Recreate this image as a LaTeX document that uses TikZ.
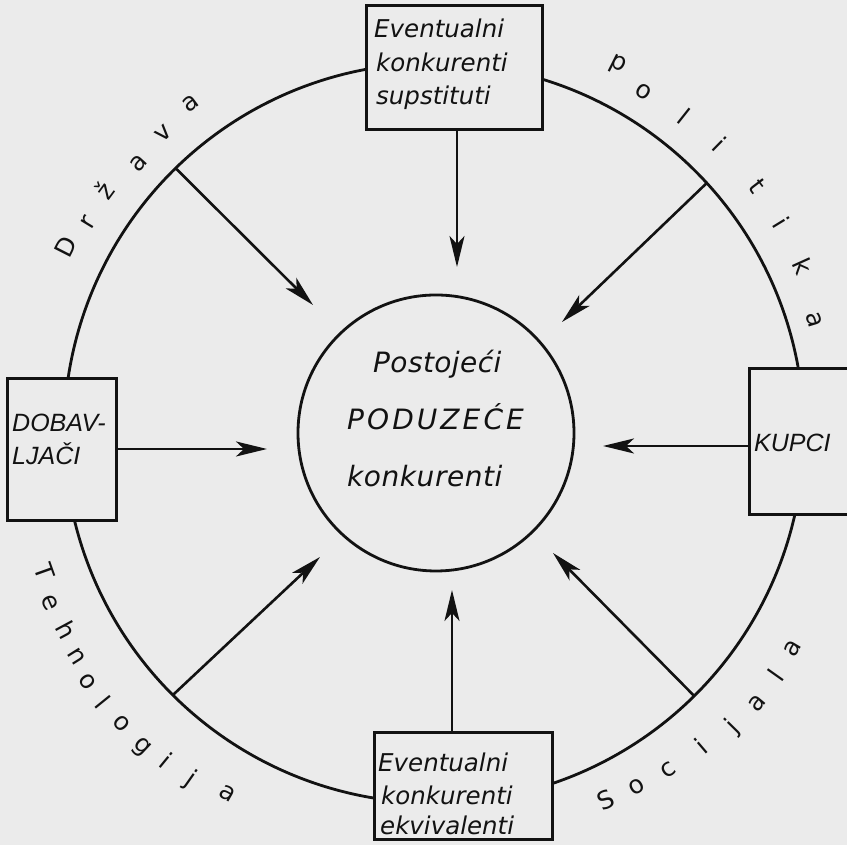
\documentclass[tikz,border=0pt]{standalone}
\usepackage{fontspec}
\usetikzlibrary{arrows.meta}
\newfontfamily\dvs{DejaVu Sans}
\newfontfamily\lib{Liberation Sans}
\definecolor{paper}{RGB}{235,235,235}
\definecolor{ink}{RGB}{18,18,18}
\newcommand\arcletter[5]{\node[arcl, rotate=#4] (#1) at (#2,{845-#3}) {#5};}
\begin{document}
\begin{tikzpicture}[x=1pt,y=1pt,
  ring/.style={draw=ink, line width=2.8pt},
  box/.style={draw=ink, fill=paper, line width=3pt, inner sep=0pt},
  arr/.style={draw=ink, line width=2.6pt, -{Stealth[length=31pt,width=15pt,inset=8pt]}},
  boxtxt/.style={anchor=base west, inner sep=0pt, text=ink, font=\dvs\itshape\fontsize{24.5}{28}\selectfont},
  captxt/.style={anchor=base west, inner sep=0pt, text=ink, font=\lib\itshape\fontsize{25}{28}\selectfont},
  firmtxt/.style={anchor=base west, inner sep=0pt, text=ink},
  arcl/.style={inner sep=0pt, text=ink, anchor=center, text height=14pt, text depth=0pt, font=\dvs\fontsize{25}{30}\selectfont}]
\useasboundingbox (0,0) rectangle (847,845);
\fill[paper] (0,0) rectangle (847,845);
\clip (0,0) rectangle (847,845);

% ring geometry
\coordinate (C) at (434,412);
\coordinate (rA) at ([shift={(171.6:370)}]C);
\coordinate (rB) at ([shift={(73:370)}]C);
\coordinate (rC) at ([shift={(-12.8:370)}]C);
\coordinate (rE) at ([shift={(193.8:370)}]C);
\draw[ring] (rA) arc[start angle=171.6, end angle=100.6, radius=370];
\draw[ring] (rB) arc[start angle=73, end angle=10, radius=370];
\draw[ring] (rC) arc[start angle=-12.8, end angle=-71.4, radius=370];
\draw[ring] (rE) arc[start angle=193.8, end angle=260.7, radius=370];

% boxes
\node[box, minimum width=176, minimum height=124] (top) at (454,777) {};
\node[box, minimum width=109, minimum height=142] (dob) at (61.5,395) {};
\node[box, minimum width=121, minimum height=146] (kupci) at (809.5,403) {};
\node[box, minimum width=178, minimum height=107] (bot) at (463,58.5) {};

% inner circle
\node[draw=ink, line width=2.8pt, circle, minimum size=276, inner sep=0pt] (firm) at (436,412) {};

% box texts
\node[boxtxt] (t1) at (374,807) {Eventualni};
\node[boxtxt] (t2) at (376,773) {konkurenti};
\node[boxtxt] (t3) at (376,740) {supstituti};
\node[boxtxt] (b1) at (378,73) {Eventualni};
\node[boxtxt] (b2) at (381,40) {konkurenti};
\node[boxtxt] (b3) at (380,10) {ekvivalenti};
\node[captxt] (d1) at (12,413) {DOBAV-};
\node[captxt] (d2) at (12,380) {LJAČI};
\node[captxt] (k1) at (754,393) {KUPCI};

% firm texts
\node[firmtxt, font=\dvs\itshape\fontsize{28}{30}\selectfont\addfontfeature{LetterSpace=1.5}] (f1) at (373,472) {Postojeći};
\node[firmtxt, font=\dvs\itshape\fontsize{28}{30}\selectfont\addfontfeature{LetterSpace=11}] (f2) at (347,415) {PODUZEĆE};
\node[firmtxt, font=\dvs\itshape\fontsize{28}{30}\selectfont\addfontfeature{LetterSpace=2}] (f3) at (347,358) {konkurenti};

% straight arrows from the boxes
\coordinate (tTop) at (457,578);
\coordinate (tLeft) at (267,396);
\coordinate (tRight) at (603,399);
\coordinate (tBot) at (452,255);
\draw[arr] (top.south -| tTop) -- (tTop);
\draw[arr] (dob.east |- tLeft) -- (tLeft);
\draw[arr] (kupci.west |- tRight) -- (tRight);
\draw[arr] (bot.north -| tBot) -- (tBot);

% diagonal arrows from the ring
\coordinate (rD) at ([shift={(134.3:370)}]C);
\coordinate (rP) at ([shift={(42.5:370)}]C);
\coordinate (rT) at ([shift={(225.1:370)}]C);
\coordinate (rS) at ([shift={(-45.3:370)}]C);
\coordinate (tD) at (313,540);
\coordinate (tP) at (562,523);
\coordinate (tT) at (320,288);
\coordinate (tS) at (553,292);
\draw[arr] (rD) -- (tD);
\draw[arr] (rP) -- (tP);
\draw[arr] (rT) -- (tT);
\draw[arr] (rS) -- (tS);

% Drzava
\arcletter{da1}{68}{248}{63}{D}
\arcletter{da2}{88}{222}{58.6}{r}
\arcletter{da3}{107}{192}{53.6}{ž}
\arcletter{da4}{138}{163}{47.6}{a}
\arcletter{da5}{163}{133}{42.1}{v}
\arcletter{da6}{190}{103}{36.5}{a}
% politika
\arcletter{po1}{619}{63}{-26.6}{p}
\arcletter{po2}{644}{92}{-31.6}{o}
\arcletter{po3}{683}{118}{-38.3}{l}
\arcletter{po4}{718}{146}{-44.4}{i}
\arcletter{po5}{756}{187}{-52.6}{t}
\arcletter{po6}{779}{224}{-58.5}{i}
\arcletter{po7}{801}{267}{-65.6}{k}
\arcletter{po8}{814}{320}{-73.2}{a}
% Tehnologija
\arcletter{te1}{43}{572}{-70.4}{T}
\arcletter{te2}{50}{603}{-66.1}{e}
\arcletter{te3}{64}{631}{-61.7}{h}
\arcletter{te4}{77}{657}{-57.9}{n}
\arcletter{te5}{88}{682}{-54.3}{o}
\arcletter{te6}{101}{704}{-51}{l}
\arcletter{te7}{122}{723}{-47.2}{o}
\arcletter{te8}{143}{746}{-43.1}{g}
\arcletter{te9}{165}{762}{-39.3}{i}
\arcletter{te10}{190}{780}{-35.1}{j}
\arcletter{te11}{228}{793}{-29.8}{a}
% Socijala
\arcletter{so1}{607}{802}{25.1}{S}
\arcletter{so2}{637}{787}{29.8}{o}
\arcletter{so3}{668}{770}{34.8}{c}
\arcletter{so4}{703}{748}{40.5}{i}
\arcletter{so5}{733}{727}{45.5}{j}
\arcletter{so6}{757}{703}{50.1}{a}
\arcletter{so7}{778}{677}{54.7}{l}
\arcletter{so8}{792}{648}{59}{a}
\end{tikzpicture}
\end{document}
